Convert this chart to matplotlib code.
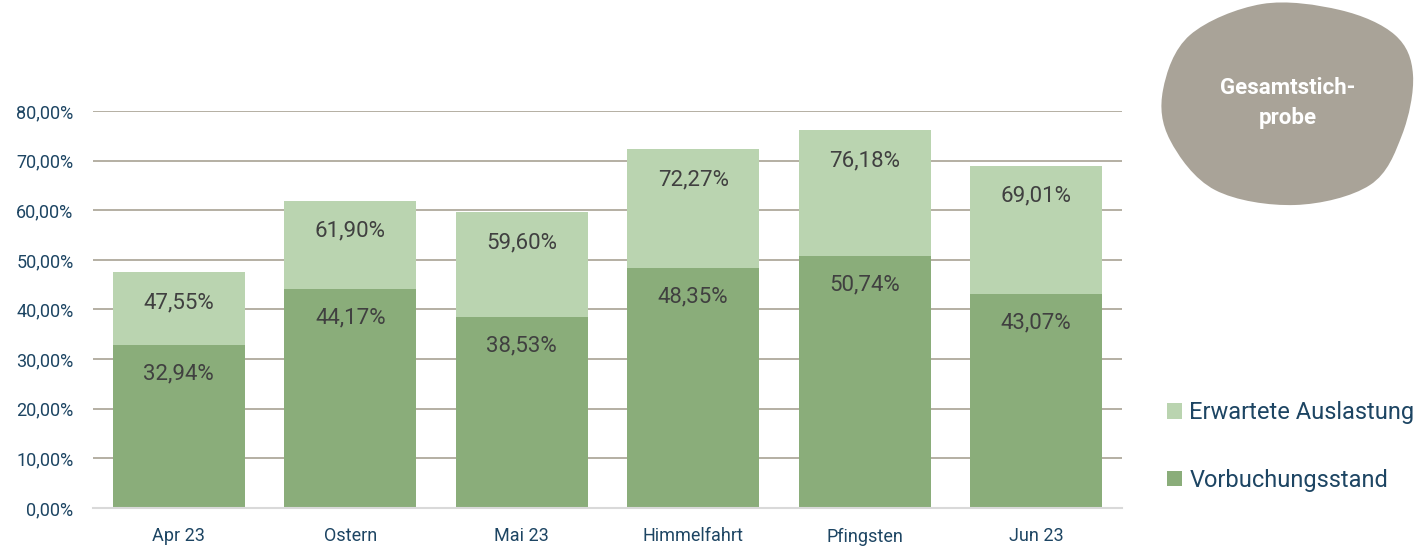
import matplotlib.pyplot as plt
from matplotlib.path import Path
from matplotlib.patches import PathPatch

categories = ["Apr 23", "Ostern", "Mai 23", "Himmelfahrt", "Pfingsten", "Jun 23"]
erwartet = [47.55, 61.90, 59.60, 72.27, 76.18, 69.01]
vorbuchung = [32.94, 44.17, 38.53, 48.35, 50.74, 43.07]

light = "#bad4b0"
dark = "#8aad7a"
tick_col = "#1d4563"
val_col = "#404040"

plt.rcParams['font.family'] = ['Roboto', 'DejaVu Sans']

fig = plt.figure(figsize=(14.16, 5.47), dpi=100)
ax = fig.add_axes([93 / 1416, 1 - 508 / 547, (1122 - 93) / 1416, (508 - 111) / 547])

x = range(len(categories))
b1 = ax.bar(x, erwartet, width=0.77, color=light, zorder=2, label="Erwartete Auslastung")
b2 = ax.bar(x, vorbuchung, width=0.77, color=dark, zorder=3, label="Vorbuchungsstand")

def fmt(v):
    return f"{v:.2f}%".replace(".", ",")

for i in x:
    ax.annotate(fmt(erwartet[i]), (i, erwartet[i]), xytext=(0, -22), textcoords="offset points",
                ha="center", va="center", fontsize=16, color=val_col, zorder=4)
    ax.annotate(fmt(vorbuchung[i]), (i, vorbuchung[i]), xytext=(0, -21), textcoords="offset points",
                ha="center", va="center", fontsize=16, color=val_col, zorder=4)

ax.set_xlim(-0.5, 5.5)
ax.set_ylim(0, 80)
ax.set_yticks(range(0, 81, 10))
ax.set_yticklabels([f"{v},00%" for v in range(0, 81, 10)])
ax.set_xticks(list(x))
ax.set_xticklabels(categories)
ax.yaxis.grid(True, color="#a8a294", linewidth=1.2, zorder=0)
ax.set_axisbelow(True)
for s in ["top", "right", "left"]:
    ax.spines[s].set_visible(False)
ax.spines["bottom"].set_color("#d9d9d9")
ax.spines["bottom"].set_linewidth(1.5)
ax.spines["bottom"].set_zorder(5)
ax.tick_params(axis="both", length=0, labelsize=13, colors=tick_col)
ax.tick_params(axis="x", pad=14)
ax.tick_params(axis="y", pad=14)

# legend
fig.legend(handles=[b1, b2], loc="upper left", bbox_to_anchor=(1167 / 1416, 1 - 401 / 547),
           frameon=False, fontsize=17, labelcolor=tick_col, handlelength=0.65, handleheight=0.65,
           handletextpad=0.3, labelspacing=1.9, borderpad=0, borderaxespad=0)

# blob in the top right corner
def fx(px):
    return px / 1416

def fy(py):
    return 1 - py / 547

knots = [(1262, 4), (1340, 10), (1395, 35), (1413, 75), (1402, 135), (1370, 185),
         (1295, 205), (1215, 190), (1170, 140), (1163, 90), (1190, 35)]
n = len(knots)
verts = [knots[0]]
codes = [Path.MOVETO]
for i in range(n):
    p0, p1, p2, p3 = knots[i - 1], knots[i], knots[(i + 1) % n], knots[(i + 2) % n]
    c1 = (p1[0] + (p2[0] - p0[0]) / 6, p1[1] + (p2[1] - p0[1]) / 6)
    c2 = (p2[0] - (p3[0] - p1[0]) / 6, p2[1] - (p3[1] - p1[1]) / 6)
    verts += [c1, c2, p2]
    codes += [Path.CURVE4] * 3
verts = [(fx(px), fy(py)) for px, py in verts]
blob = PathPatch(Path(verts, codes), transform=fig.transFigure, facecolor="#a9a398", edgecolor="none")
fig.patches.append(blob)
fig.text(fx(1288), fy(103), "Gesamtstich-\nprobe", ha="center", va="center", color="white",
         fontsize=16, fontweight="bold", linespacing=1.45)

fig.savefig("out.png", dpi=100)
